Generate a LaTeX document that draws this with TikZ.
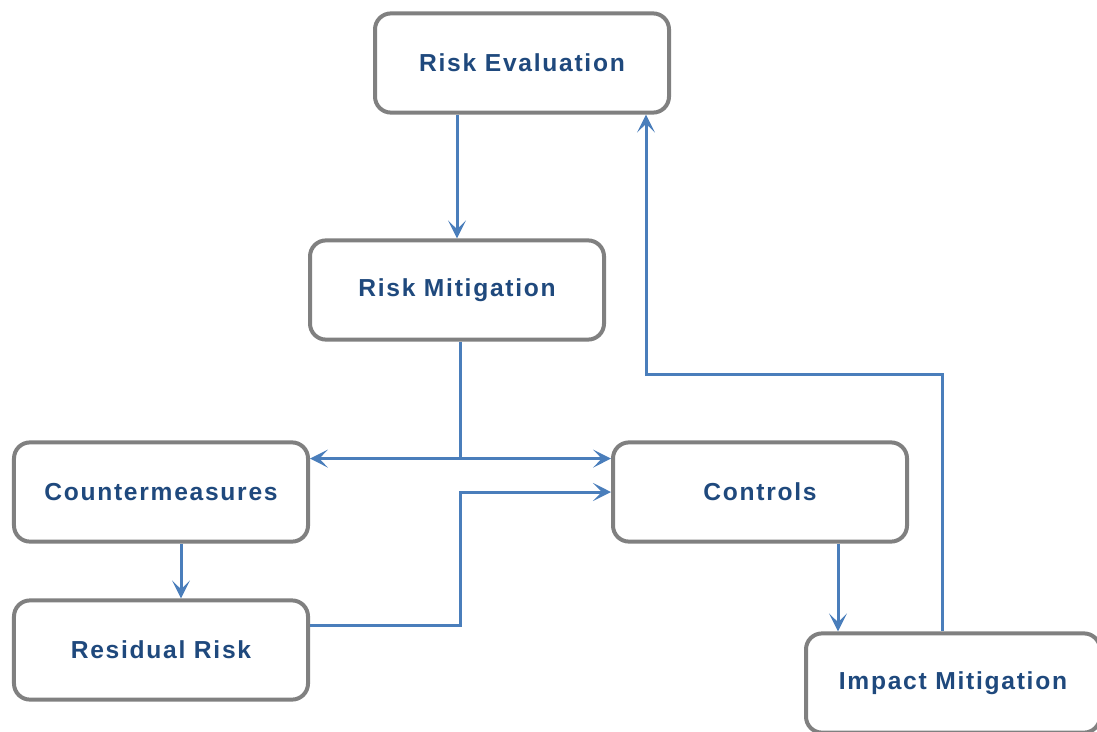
\documentclass[tikz,border=0pt]{standalone}
\usepackage{fontspec}
\newfontfamily\boxfont[LetterSpace=7]{Liberation Sans}
\usetikzlibrary{arrows.meta,calc}
\definecolor{boxgray}{HTML}{808080}
\definecolor{linkblue}{HTML}{4A7EBB}
\definecolor{textblue}{HTML}{1F497D}
\begin{document}
\begin{tikzpicture}[x=0.25mm, y=-0.25mm, every node/.style={font=\boxfont\bfseries\fontsize{17.5}{20}\selectfont, text=textblue}]
\tikzset{stage/.style={draw=boxgray, line width=1mm, rounded corners=4mm, fill=white, minimum width=73.5mm, minimum height=24.8mm, anchor=center},
  link/.style={draw=linkblue, line width=0.75mm, -{Stealth[length=4.5mm, width=4.5mm, inset=2.2mm]}},
  plain/.style={draw=linkblue, line width=0.75mm}}
\useasboundingbox (0,0) rectangle (1097,731);
% stages
\node[stage] (eval) at (522,63) {Risk Evaluation};
\node[stage] (mitig) at (457,290) {Risk Mitigation};
\node[stage] (counter) at (161,492) {Countermeasures};
\node[stage] (controls) at (760,492) {Controls};
\node[stage] (residual) at (161,650) {Residual Risk};
\node[stage] (impact) at (953,683) {Impact Mitigation};
% junctions
\coordinate (split) at ($(mitig.south)+(3,117)$);
\coordinate (turn) at ($(eval.south)+(124,260)$);
\coordinate (drop) at ($(controls.south)+(78,0)$);
% connectors
\draw[link] (eval.south -| mitig.north) -- (mitig.north);
\draw[plain] ($(mitig.south)+(3,0)$) -- (split);
\draw[link] (split) -- (split -| counter.east);
\draw[link] (split) -- (split -| controls.west);
\draw[link] ($(counter.south)+(20,0)$) -- ($(residual.north)+(20,0)$);
\draw[link] ($(residual.east)+(0,-25)$) -| (split |- controls.west) -- (controls.west);
\draw[link] (drop) -- (drop |- impact.north);
\draw[link] ($(impact.north)+(-11,0)$) |- (turn) -- ($(eval.south)+(124,0)$);
\end{tikzpicture}
\end{document}
